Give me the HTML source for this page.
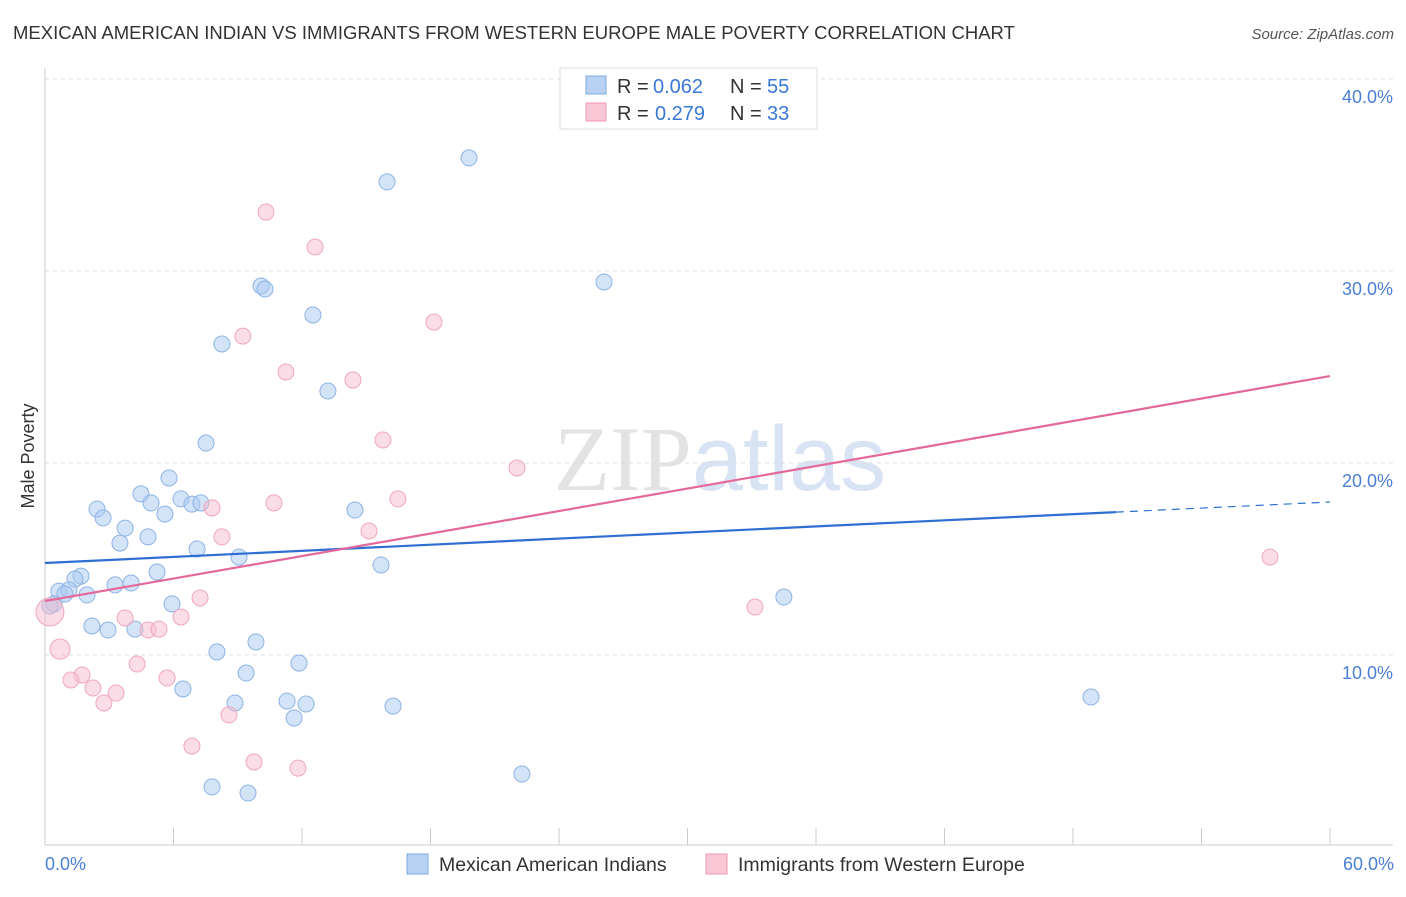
<!DOCTYPE html>
<html><head><meta charset="utf-8">
<style>
body{margin:0;background:#fff;font-family:"Liberation Sans",sans-serif;}
svg text{font-family:"Liberation Sans",sans-serif;}
</style></head>
<body>
<svg id="chart" width="1406" height="892" xmlns="http://www.w3.org/2000/svg">
<text x="13" y="39" font-size="18.5" fill="#333">MEXICAN AMERICAN INDIAN VS IMMIGRANTS FROM WESTERN EUROPE MALE POVERTY CORRELATION CHART</text>
<text x="1394" y="39" font-size="15" fill="#555" text-anchor="end" font-style="italic">Source: ZipAtlas.com</text>
<text x="720" y="490" font-size="92" text-anchor="middle" opacity="0.7"><tspan font-family="Liberation Serif" fill="#d8d8d8">ZIP</tspan><tspan fill="#c8d8ee">atlas</tspan></text>
<g id="grid"></g><g id="axes"></g><g id="marks"></g>
<text transform="translate(34,456) rotate(-90)" font-size="18" fill="#333" text-anchor="middle">Male Poverty</text>
<text x="45" y="870" font-size="18" fill="#4a7fd6">0.0%</text>
<text x="1394" y="870" font-size="18" fill="#4a7fd6" text-anchor="end">60.0%</text>
<g>
<rect x="560" y="68" width="257" height="61" fill="#fff" stroke="#ddd"/>
<rect x="586" y="76" width="20" height="18" fill="#b8d2f4" stroke="#7fa9e0"/>
<rect x="586" y="103" width="20" height="18" fill="#f8c6d4" stroke="#ef9ab5"/>
<text x="617" y="93" font-size="20" fill="#333">R =</text>
<text x="653" y="93" font-size="20" fill="#3a78d8">0.062</text>
<text x="730" y="93" font-size="20" fill="#333">N =</text>
<text x="767" y="93" font-size="20" fill="#3a78d8">55</text>
<text x="617" y="120" font-size="20" fill="#333">R =</text>
<text x="655" y="120" font-size="20" fill="#3a78d8">0.279</text>
<text x="730" y="120" font-size="20" fill="#333">N =</text>
<text x="767" y="120" font-size="20" fill="#3a78d8">33</text>
</g>
<g>
<rect x="407" y="854" width="21" height="20" fill="#b8d2f4" stroke="#7fa9e0"/>
<text x="439" y="871" font-size="19.5" fill="#333">Mexican American Indians</text>
<rect x="706" y="854" width="21" height="20" fill="#f8c6d4" stroke="#ef9ab5"/>
<text x="738" y="871" font-size="19.5" fill="#333">Immigrants from Western Europe</text>
</g>
</svg>
<script>
const yTicks=[10,20,30,40];
const yTickLabels=["10.0%","20.0%","30.0%","40.0%"];
const blueX=[19.80,15.97,26.10,10.09,10.27,12.51,8.26,13.21,7.52,5.79,4.48,4.95,6.35,6.86,7.28,2.43,2.71,5.60,14.47,3.74,4.81,3.50,7.10,9.06,15.69,5.23,1.68,1.40,4.02,3.27,0.65,1.12,0.93,1.96,0.42,0.23,5.93,34.50,2.19,2.94,4.20,9.85,8.03,11.86,9.39,6.44,8.87,11.30,12.19,11.63,16.25,48.84,22.27,7.80,9.48];
const blueY=[35.89,34.64,29.43,29.22,29.06,27.71,26.20,23.75,21.04,19.22,18.39,17.92,18.13,17.86,17.92,17.60,17.14,17.34,17.55,16.61,16.15,15.83,15.52,15.10,14.69,14.32,14.11,13.96,13.75,13.65,13.33,13.39,13.18,13.13,12.66,12.55,12.66,13.02,11.51,11.30,11.35,10.68,10.16,9.58,9.06,8.23,7.50,7.60,7.45,6.72,7.34,7.81,3.80,3.13,2.81];
const pinkX=[10.32,12.61,9.24,18.16,11.25,14.38,15.78,22.04,16.48,10.69,7.80,15.13,8.26,7.24,3.74,6.35,4.81,5.32,33.15,57.20,0.23,0.70,4.30,1.73,5.70,1.21,2.24,3.32,2.75,8.59,6.86,9.76,11.81];
const pinkY=[33.07,31.25,26.61,27.34,24.74,24.32,21.20,19.74,18.13,17.92,17.66,16.46,16.15,12.97,11.93,11.98,11.30,11.35,12.50,15.10,12.24,10.31,9.53,8.96,8.80,8.70,8.28,8.02,7.50,6.88,5.26,4.43,4.11];
const pinkR=[8,8,8,8,8,8,8,8,8,8,8,8,8,8,8,8,8,8,8,8,14,10,8,8,8,8,8,8,8,8,8,8,8];
const blueTrend=[14.79,17.97];const blueSolidEnd=50;
const pinkTrend=[12.81,24.53];
const NS="http://www.w3.org/2000/svg";
const X=v=>45+v*(1285/60), Y=v=>847-v*19.2;
function mk(t,a,p){const e=document.createElementNS(NS,t);for(const k in a)e.setAttribute(k,a[k]);p.appendChild(e);return e;}
const grid=document.getElementById('grid'),axes=document.getElementById('axes'),marks=document.getElementById('marks');
yTicks.forEach((t,i)=>{
 const l=mk('line',{x1:45,x2:1393,y1:Y(t),y2:Y(t),stroke:'#ddd','stroke-dasharray':'4,4'},grid);
 
 
 const tx=mk('text',{x:1393,y:Y(t)+24,'font-size':18,fill:'#4a7fd6','text-anchor':'end'},grid);
 tx.textContent=yTickLabels[i];
 
 
});
mk('line',{x1:45,x2:45,y1:68,y2:845,stroke:'#ccc'},axes);
mk('line',{x1:45,x2:1393,y1:845,y2:845,stroke:'#ccc'},axes);
for(let i=0;i<=10;i++){const t=mk('line',{x1:X(i*6),x2:X(i*6),y1:828,y2:845,stroke:'#ccc'},axes);
 
 }
blueX.forEach((x,i)=>{const c=mk('circle',{cx:X(x),cy:Y(blueY[i]),r:8,fill:'rgba(170,202,242,0.5)',stroke:'#8db3e4','stroke-width':1},marks);
 
 });
pinkX.forEach((x,i)=>{const c=mk('circle',{cx:X(x),cy:Y(pinkY[i]),r:pinkR[i],fill:'rgba(246,188,206,0.5)',stroke:'#f0a6be','stroke-width':1},marks);
 
 });
const bAt=v=>blueTrend[0]+(blueTrend[1]-blueTrend[0])*v/60;
let l=mk('line',{x1:X(0),y1:Y(bAt(0)),x2:X(blueSolidEnd),y2:Y(bAt(blueSolidEnd)),stroke:'#2f6fd4','stroke-width':2.2},marks);


l=mk('line',{x1:X(blueSolidEnd),y1:Y(bAt(blueSolidEnd)),x2:X(60),y2:Y(bAt(60)),stroke:'#2f6fd4','stroke-width':1.2,'stroke-dasharray':'8,6'},marks);


l=mk('line',{x1:X(0),y1:Y(pinkTrend[0]),x2:X(60),y2:Y(pinkTrend[1]),stroke:'#e5689a','stroke-width':2.2},marks);


</script>
</body></html>
